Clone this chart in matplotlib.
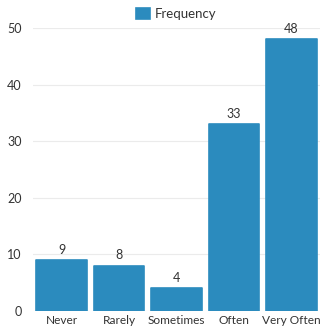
import matplotlib.pyplot as plt

categories = ['Never', 'Rarely', 'Sometimes', 'Often', 'Very Often']
frequency = [9, 8, 4, 33, 48]
yticks = [0, 10, 20, 30, 40, 50]

bar_color = '#2B8BBE'
text_color = '#333333'

plt.rcParams['font.family'] = ['Lato', 'DejaVu Sans']

fig = plt.figure(figsize=(3.21, 3.30), dpi=100)
ax = fig.add_axes([33 / 321, 19 / 330, 287 / 321, 283 / 330])

bars = ax.bar(range(len(categories)), frequency, width=0.88, color=bar_color,
              edgecolor=bar_color, linewidth=1.2, joinstyle='round',
              label='Frequency', zorder=3)
for rect, v in zip(bars, frequency):
    ax.text(rect.get_x() + rect.get_width() / 2, v + 0.8, str(v),
            ha='center', va='bottom', fontsize=9, color=text_color)

ax.set_xlim(-0.5, len(categories) - 0.5)
ax.set_ylim(0, 50)
ax.set_yticks(yticks)
ax.set_xticks(range(len(categories)))
ax.set_xticklabels(categories)
ax.tick_params(axis='both', length=0, labelcolor=text_color)
ax.tick_params(axis='y', pad=8, labelsize=9)
ax.tick_params(axis='x', pad=3, labelsize=8.6)
ax.grid(axis='y', color='#EBEBEB', linewidth=0.8, zorder=0)
for s in ax.spines.values():
    s.set_visible(False)

ax.legend(loc='lower center', bbox_to_anchor=(0.5, 1.0), frameon=False,
          fontsize=9.5, handlelength=1.0, handleheight=1.0, handletextpad=0.4,
          borderaxespad=0.2, labelcolor=text_color)

fig.savefig('out.png', dpi=100)
